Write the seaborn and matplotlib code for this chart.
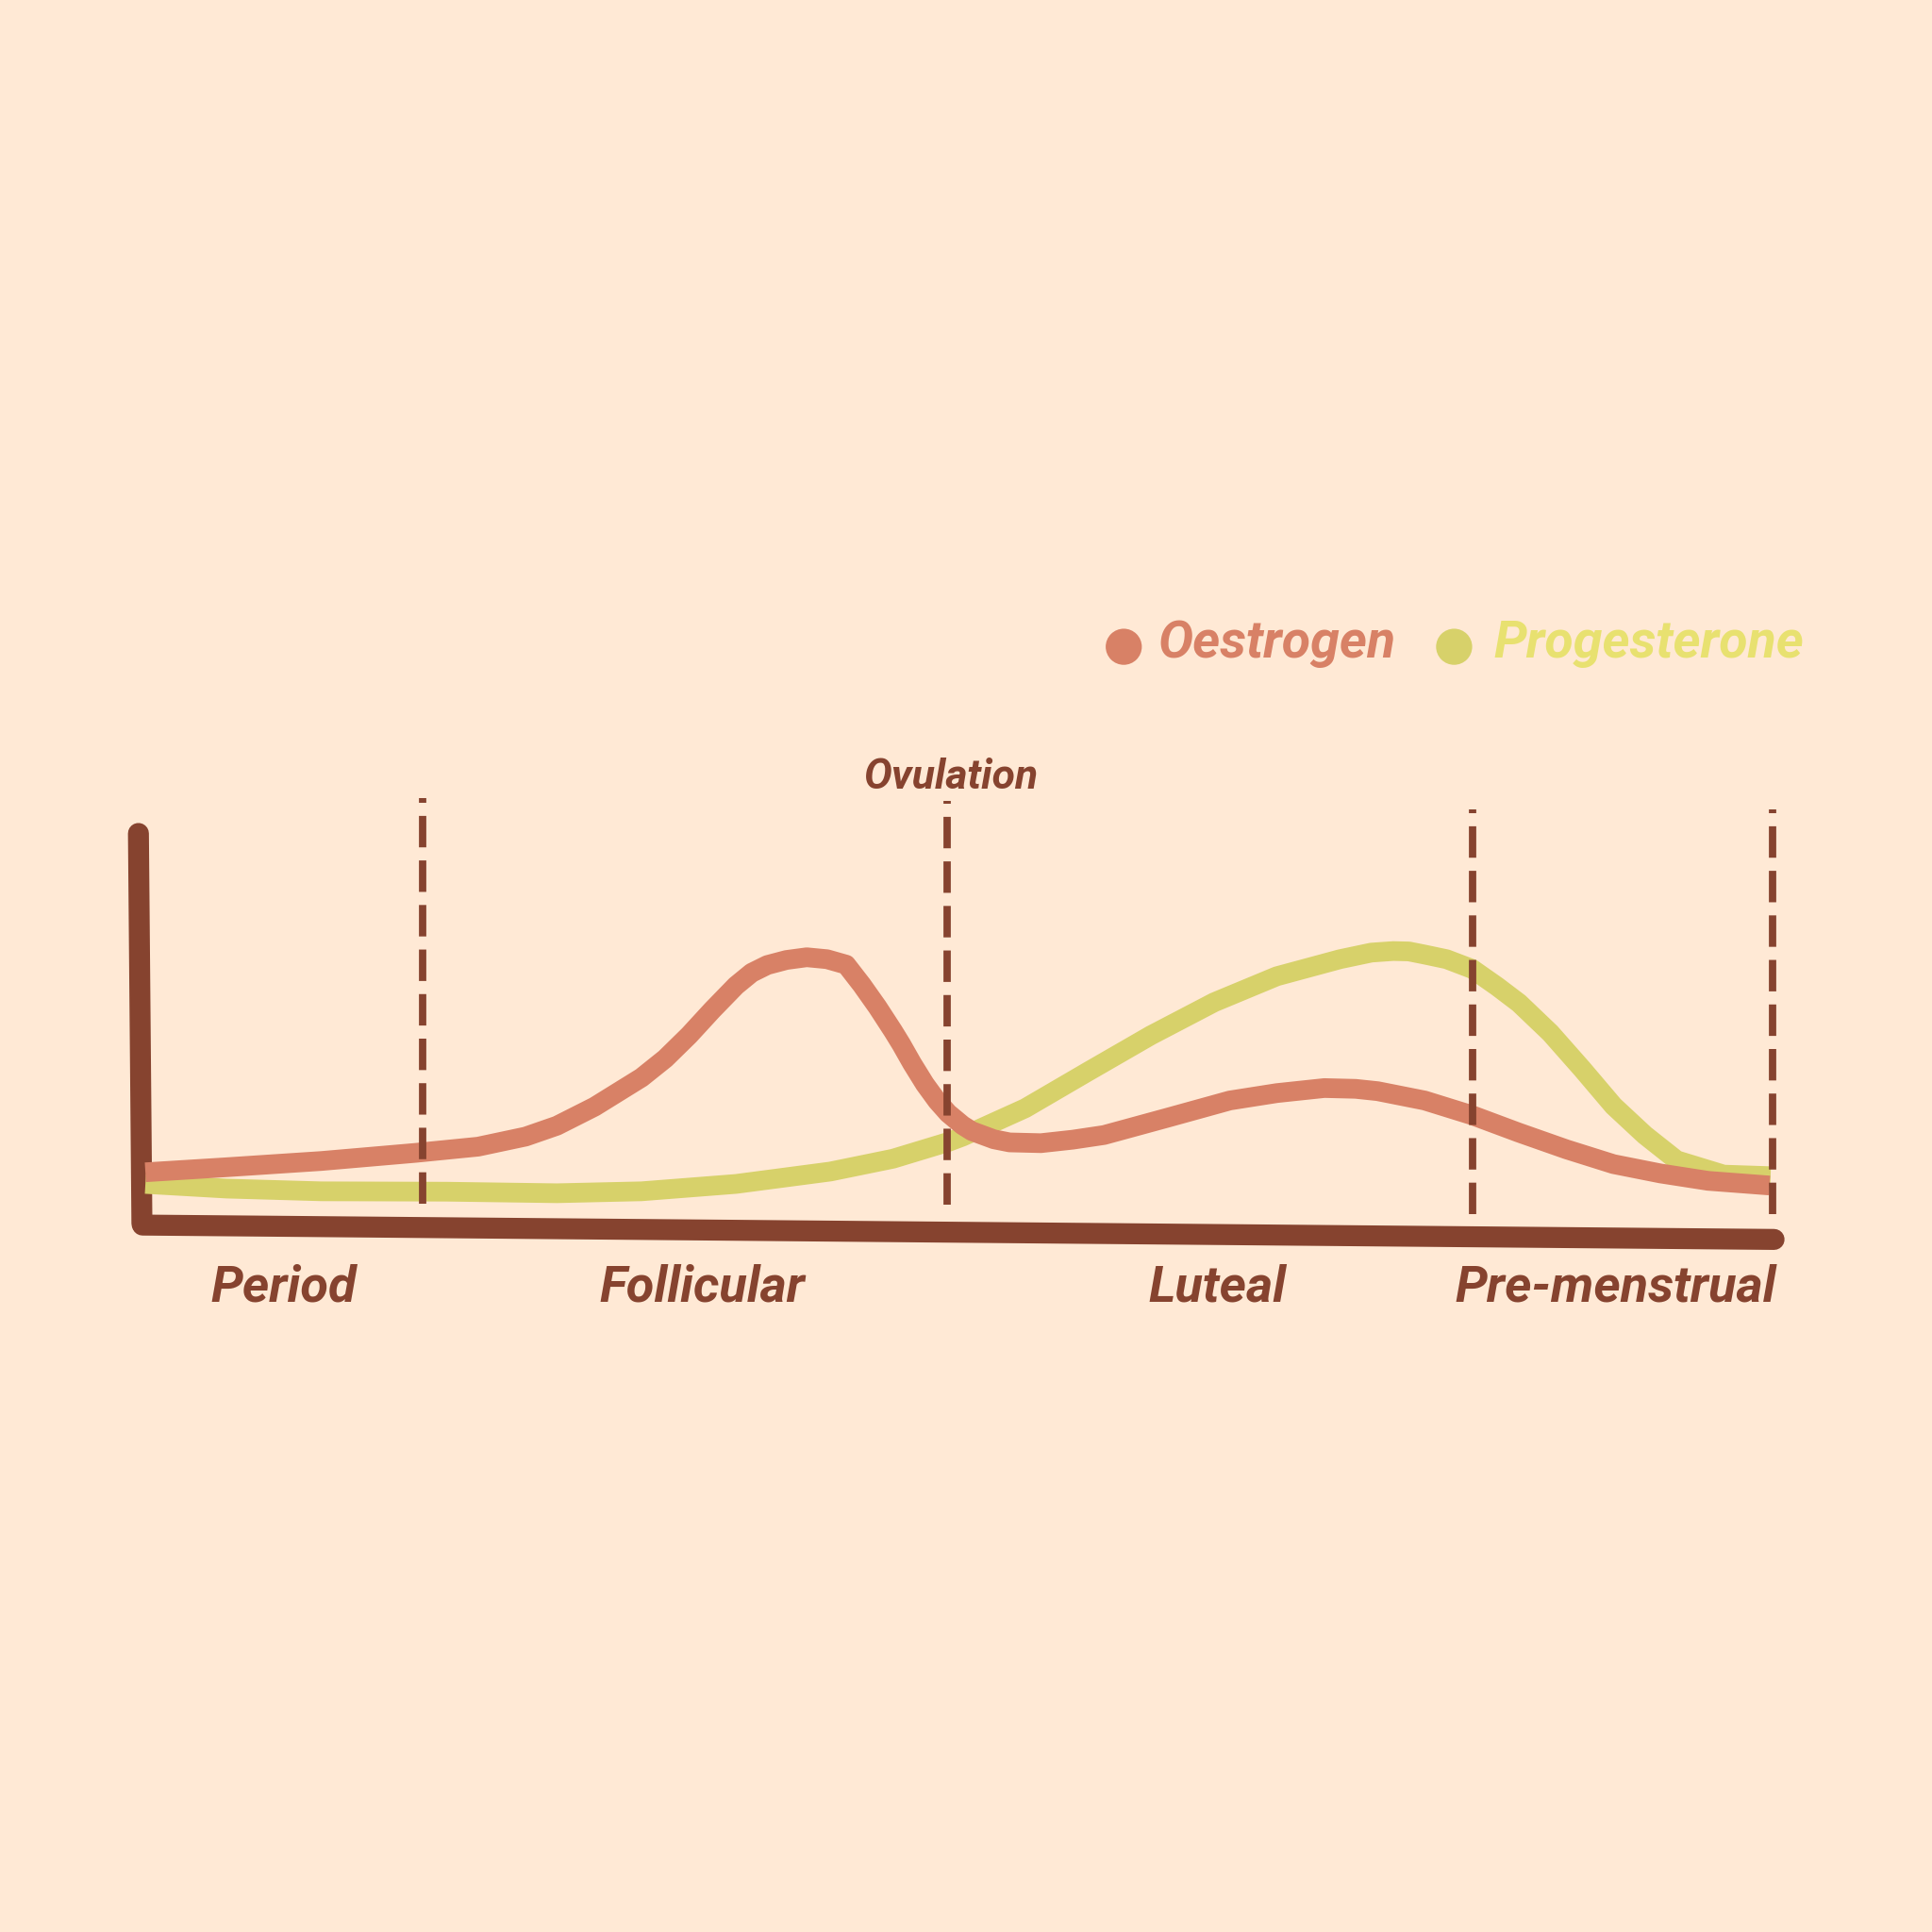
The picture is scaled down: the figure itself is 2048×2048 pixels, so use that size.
import matplotlib
matplotlib.use("Agg")
from matplotlib import pyplot as plt
import seaborn as sns
import pandas as pd

# cycle day vs hormone level (arbitrary units)
oest_day = [0, 1.40, 3.03, 4.66, 5.74, 6.56, 7.10, 7.75, 8.56, 8.97, 9.38, 9.78,
            10.19, 10.46, 10.73, 11.06, 11.41, 11.76, 12.09, 12.36, 12.63, 12.90,
            13.04, 13.23, 13.45, 13.66, 13.85, 14.10, 14.26, 14.64, 14.91, 15.45,
            16.0, 16.54, 17.62, 18.71, 19.52, 20.34, 20.88, 21.26, 22.07, 22.89,
            23.70, 24.52, 25.33, 26.14, 26.96, 28.02]
oest_level = [13.2, 14.5, 16.1, 18.2, 19.8, 22.4, 25.2, 30.1, 37.6, 42.5, 48.5, 55.0,
              61.3, 64.6, 66.6, 67.9, 68.6, 68.1, 66.7, 61.5, 55.8, 49.6,
              46.2, 41.2, 35.9, 31.6, 28.4, 25.3, 23.8, 21.7, 20.9, 20.7,
              21.6, 22.8, 27.2, 31.7, 33.6, 34.9, 34.7, 34.1, 31.7, 27.9,
              23.4, 19.1, 15.3, 12.9, 11.0, 9.8]

prog_day = [0, 1.40, 3.03, 5.20, 7.10, 8.56, 10.19, 11.82, 12.90, 13.85, 14.10,
            15.18, 16.27, 17.35, 18.44, 19.52, 20.61, 21.15, 21.53, 21.80, 22.07,
            22.45, 22.89, 23.32, 23.70, 24.24, 24.79, 25.33, 25.87, 26.42, 27.23,
            28.04]
prog_level = [10.2, 9.0, 8.3, 8.2, 7.8, 8.3, 10.2, 13.4, 16.7, 21.0, 22.4,
              29.7, 39.2, 48.5, 57.0, 63.7, 68.1, 69.8, 70.2, 70.1, 69.3,
              68.1, 65.6, 61.1, 56.8, 49.1, 39.8, 30.3, 22.8, 16.3, 12.6,
              12.2]

phase_days = [4.78, 13.84, 22.9, 28.08]
phase_tops = [109.5, 108.9, 106.7, 106.7]
phase_bottoms = [5.1, 4.8, 2.5, 2.5]

phase_names = ["Period", "Follicular", "Luteal", "Pre-menstrual"]
phase_label_days = [2.38, 9.61, 18.49, 25.36]

BG = "#FFE9D5"
BROWN = "#86432F"
OEST = "#D88166"
PROG = "#D7D16A"
PROG_TXT = "#E8E170"

sns.set_theme(style="white")
plt.rcParams['font.family'] = ['Roboto', 'Lato', 'DejaVu Sans']
plt.rcParams['lines.scale_dashes'] = False

fig = plt.figure(figsize=(10.24, 10.24), dpi=200, facecolor=BG)
ax = fig.add_axes([0, 0, 1, 1])
ax.set_facecolor(BG)
ax.set_axis_off()

# hand drawn style axes
ax.plot([-0.12, -0.06], [100.5, 0], color=BROWN, lw=8, solid_capstyle='round')
ax.plot([-0.05, 28.1], [-0.4, -4.1], color=BROWN, lw=8, solid_capstyle='round')

prog = pd.DataFrame({'day': prog_day, 'level': prog_level})
oest = pd.DataFrame({'day': oest_day, 'level': oest_level})
sns.lineplot(data=prog, x='day', y='level', ax=ax, color=PROG, linewidth=7.5,
             solid_capstyle='butt', solid_joinstyle='round')
sns.lineplot(data=oest, x='day', y='level', ax=ax, color=OEST, linewidth=7.5,
             solid_capstyle='butt', solid_joinstyle='round')

# phase dividers, drawn bottom-up so each ends on a full dash
for d, top, bot in zip(phase_days, phase_tops, phase_bottoms):
    ax.plot([d, d], [bot, top], color=BROWN, lw=2.8, ls=(0, (12, 5)),
            dash_capstyle='butt')

for name, d in zip(phase_names, phase_label_days):
    ax.text(d, -16.5, name, ha='center', va='center', fontsize=19.5,
            fontweight='bold', fontstyle='italic', color=BROWN)

ax.text(13.9, 114.9, "Ovulation", ha='center', va='center', fontsize=16,
        fontweight='bold', fontstyle='italic', color=BROWN)

# legend
ax.scatter([16.88], [148.6], s=190, color=OEST, edgecolor='none')
ax.text(17.47, 149.5, "Oestrogen", ha='left', va='center', fontsize=20,
        fontweight='bold', fontstyle='italic', color=OEST)
ax.scatter([22.58], [148.6], s=190, color=PROG, edgecolor='none')
ax.text(23.26, 149.5, "Progesterone", ha='left', va='center', fontsize=20,
        fontweight='bold', fontstyle='italic', color=PROG_TXT)

ax.set_xlim(-118 / 47.04, (1568 - 118) / 47.04)
ax.set_ylim((993 - 1568) / 3.15, 993 / 3.15)

fig.savefig("out.png", dpi=200, facecolor=BG)
